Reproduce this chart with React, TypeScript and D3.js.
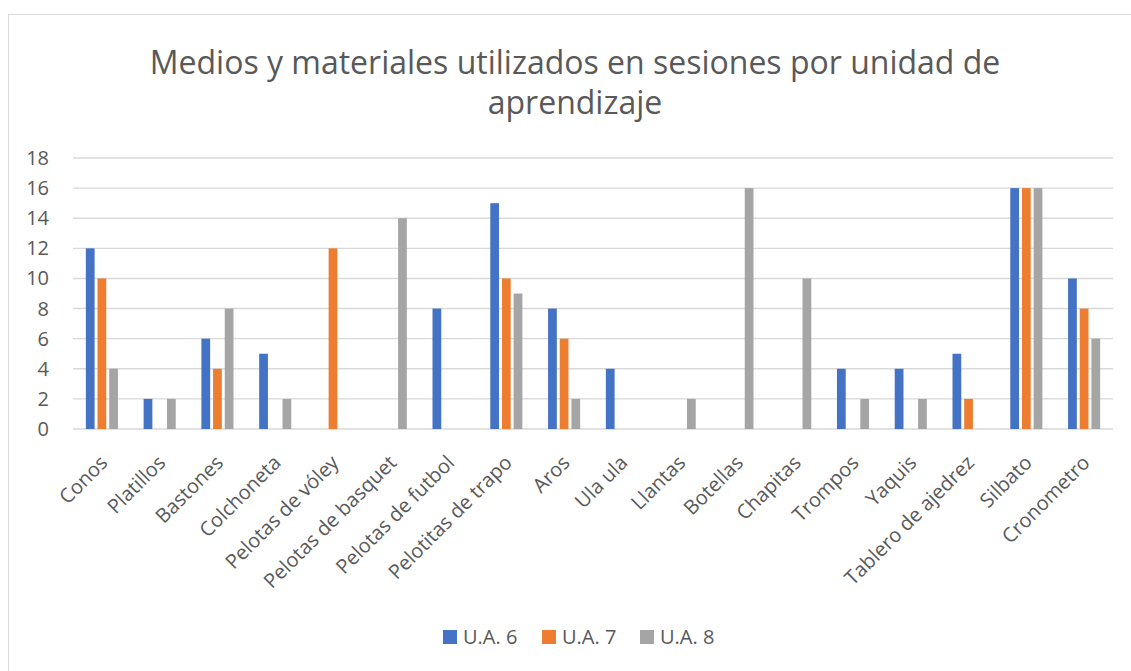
import { useEffect, useRef } from "react";
import * as d3 from "d3";

const categories = [
  "Conos", "Platillos", "Bastones", "Colchoneta", "Pelotas de vóley",
  "Pelotas de basquet", "Pelotas de futbol", "Pelotitas de trapo", "Aros",
  "Ula ula", "Llantas", "Botellas", "Chapitas", "Trompos", "Yaquis",
  "Tablero de ajedrez", "Silbato", "Cronometro",
];
const ua6 = [12, 2, 6, 5, 0, 0, 8, 15, 8, 4, 0, 0, 0, 4, 4, 5, 16, 10];
const ua7 = [10, 0, 4, 0, 12, 0, 0, 10, 6, 0, 0, 0, 0, 0, 0, 2, 16, 8];
const ua8 = [4, 2, 8, 2, 0, 14, 0, 9, 2, 0, 2, 16, 10, 2, 2, 0, 16, 6];
const seriesNames = ["U.A. 6", "U.A. 7", "U.A. 8"];
const yTicks = [0, 2, 4, 6, 8, 10, 12, 14, 16, 18];
const colors = ["#4472C4", "#ED7D31", "#A5A5A5"];

const App = () => {
  const svgRef = useRef<SVGSVGElement>(null);

  useEffect(() => {
    const W = 1131, H = 671;
    const margin = { top: 158, right: 18, bottom: 242, left: 73 };
    const font = "Open Sans, Noto Sans, sans-serif";

    const svg = d3.select(svgRef.current);
    svg.selectAll("*").remove();
    svg.attr("width", W).attr("height", H);

    // chart frame
    svg.append("rect")
      .attr("x", 8.5).attr("y", 14.5)
      .attr("width", W + 10).attr("height", H)
      .attr("fill", "#fff").attr("stroke", "#d9d9d9");

    // title
    const title = svg.append("text")
      .attr("text-anchor", "middle")
      .attr("fill", "#595959")
      .attr("font-family", font)
      .attr("font-size", 32);
    title.append("tspan").attr("x", 575).attr("y", 74)
      .text("Medios y materiales utilizados en sesiones por unidad de");
    title.append("tspan").attr("x", 575).attr("y", 114).text("aprendizaje");

    const x0 = d3.scaleBand().domain(categories)
      .range([margin.left, W - margin.right]);
    const x1 = d3.scaleBand().domain(seriesNames)
      .range([0, x0.bandwidth()]).paddingInner(0.25).paddingOuter(1.1);
    const y = d3.scaleLinear().domain([0, 18]).range([H - margin.bottom, margin.top]);

    // gridlines
    svg.append("g")
      .selectAll("line")
      .data(yTicks)
      .join("line")
      .attr("x1", margin.left).attr("x2", W - margin.right)
      .attr("y1", (d) => y(d)).attr("y2", (d) => y(d))
      .attr("stroke", "#d9d9d9").attr("stroke-width", 1.4);

    // y labels
    svg.append("g")
      .selectAll("text")
      .data(yTicks)
      .join("text")
      .attr("x", 49).attr("y", (d) => y(d))
      .attr("dy", "0.35em")
      .attr("text-anchor", "end")
      .attr("fill", "#595959")
      .attr("font-family", font)
      .attr("font-size", 20)
      .text((d) => d);

    // bars
    const series = [ua6, ua7, ua8];
    series.forEach((vals, si) => {
      svg.append("g")
        .selectAll("rect")
        .data(vals)
        .join("rect")
        .attr("x", (_, i) => (x0(categories[i]) ?? 0) + (x1(seriesNames[si]) ?? 0))
        .attr("width", x1.bandwidth())
        .attr("y", (d) => y(d))
        .attr("height", (d) => y(0) - y(d))
        .attr("fill", colors[si]);
    });

    // x labels
    svg.append("g")
      .selectAll("text")
      .data(categories)
      .join("text")
      .attr("transform", (d) =>
        `translate(${(x0(d) ?? 0) + x0.bandwidth() / 2 + 2},${y(0) + 30}) rotate(-45)`)
      .attr("text-anchor", "end")
      .attr("dy", "0.35em")
      .attr("fill", "#595959")
      .attr("font-family", font)
      .attr("font-size", 20)
      .text((d) => d);

    // legend
    const legendX = [443, 542, 640];
    const legend = svg.append("g");
    seriesNames.forEach((name, i) => {
      legend.append("rect")
        .attr("x", legendX[i]).attr("y", 630)
        .attr("width", 14).attr("height", 14)
        .attr("fill", colors[i]);
      legend.append("text")
        .attr("x", legendX[i] + 20).attr("y", 637)
        .attr("dy", "0.35em")
        .attr("fill", "#595959")
        .attr("font-family", font)
        .attr("font-size", 20)
        .text(name);
    });
  }, []);

  return (
    <svg ref={svgRef} style={{ position: "absolute", left: 0, top: 0, display: "block" }} />
  );
};

export default App;
